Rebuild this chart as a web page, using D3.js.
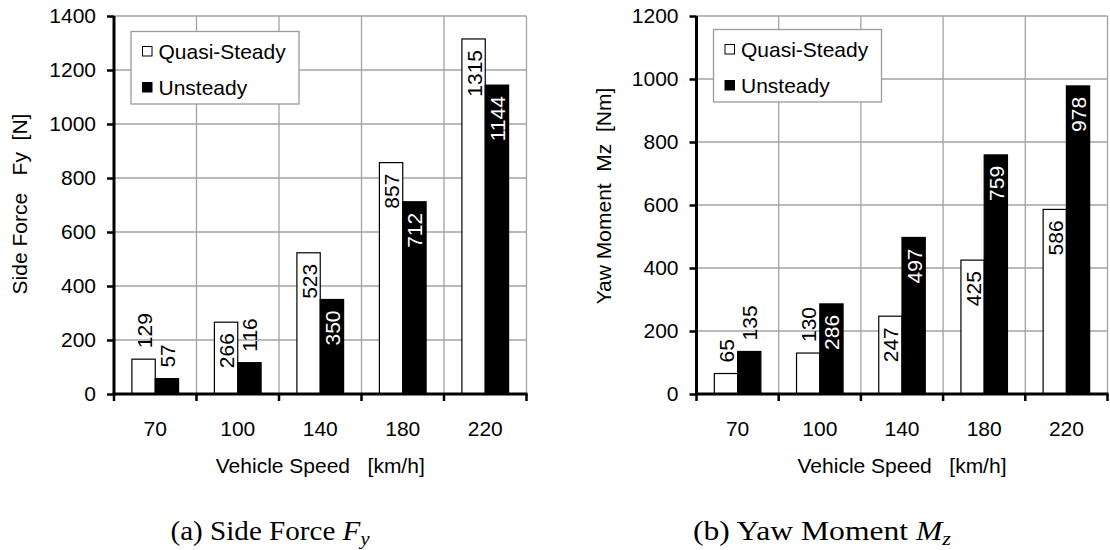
<!DOCTYPE html>
<html>
<head>
<meta charset="utf-8">
<script src="https://cdn.jsdelivr.net/npm/d3@7"></script>
<style>
  html, body { margin: 0; padding: 0; background: #fff; }
  svg { display: block; }
</style>
</head>
<body>
<svg id="fig" width="1110" height="550"></svg>
<script>
// ---- data ----
const speeds = ["70", "100", "140", "180", "220"];
const seriesNames = ["Quasi-Steady", "Unsteady"];

const sideForceQuasi = [129, 266, 523, 857, 1315];
const sideForceUnsteady = [57, 116, 350, 712, 1144];
const sideForceTicks = [0, 200, 400, 600, 800, 1000, 1200, 1400];

const yawMomentQuasi = [65, 130, 247, 425, 586];
const yawMomentUnsteady = [135, 286, 497, 759, 978];
const yawMomentTicks = [0, 200, 400, 600, 800, 1000, 1200];

const xTitle = "Vehicle Speed   [km/h]";

// ---- styling ----
const SANS = "'Liberation Sans', Arial, Helvetica, sans-serif";
const SERIF = "'Liberation Serif', 'Times New Roman', serif";
const FS = 21;
const GRID = "#a3a3a3";
const TOP = 16, BOTTOM = 394;

const svg = d3.select("#fig");

const panels = [
  {
    quasi: sideForceQuasi, unsteady: sideForceUnsteady, ticks: sideForceTicks,
    left: 114, right: 526.5,
    yTitle: "Side Force   Fy  [N]", yTitleX: 27, yTitleY: 204,
    legendX: 17, legendY: 15.5,
    caption: ["(a) Side Force ", "F", "y"], captionX: 270, captionW: 199
  },
  {
    quasi: yawMomentQuasi, unsteady: yawMomentUnsteady, ticks: yawMomentTicks,
    left: 696.5, right: 1107.5,
    yTitle: "Yaw Moment  Mz  [Nm]", yTitleX: 611, yTitleY: 196,
    legendX: 17, legendY: 13.5,
    caption: ["(b) Yaw Moment ", "M", "z"], captionX: 822, captionW: 258
  }
];

panels.forEach(drawPanel);

function drawPanel(p) {
  const g = svg.append("g");
  const yMax = p.ticks[p.ticks.length - 1];

  const x = d3.scaleBand().domain(speeds).range([p.left, p.right]).padding(0);
  const y = d3.scaleLinear().domain([0, yMax]).range([BOTTOM, TOP]);
  const bounds = speeds.map(s => x(s)).concat([p.right]);

  // horizontal grid
  g.append("g").selectAll("line")
    .data(p.ticks.filter(t => t > 0))
    .join("line")
    .attr("x1", p.left).attr("x2", p.right)
    .attr("y1", d => y(d)).attr("y2", d => y(d))
    .attr("stroke", GRID).attr("stroke-width", 1.3);

  // vertical grid at category boundaries
  g.append("g").selectAll("line")
    .data(bounds.slice(1))
    .join("line")
    .attr("x1", d => d).attr("x2", d => d)
    .attr("y1", TOP).attr("y2", BOTTOM)
    .attr("stroke", GRID).attr("stroke-width", 1.3);

  // bars
  const bw = x.bandwidth() * 0.283;
  const series = [
    { values: p.quasi, fill: "#fff", text: "#000", offset: -1 },
    { values: p.unsteady, fill: "#000", text: "#fff", offset: 0 }
  ];
  const cx = (s, i) => x(speeds[i]) + x.bandwidth() / 2 + s.offset * bw;

  series.forEach(s => {
    g.append("g").selectAll("rect")
      .data(s.values)
      .join("rect")
      .attr("x", (d, i) => cx(s, i))
      .attr("y", d => y(d))
      .attr("width", bw)
      .attr("height", d => BOTTOM - y(d))
      .attr("fill", s.fill)
      .attr("stroke", "#000")
      .attr("stroke-width", 1.2);
  });

  // value labels, rotated; inside the bar end when they fit, otherwise above it
  const inset = 11;
  series.forEach(s => {
    g.append("g").selectAll("text")
      .data(s.values)
      .join("text")
      .text(d => d)
      .attr("font-family", SANS)
      .attr("font-size", FS)
      .attr("dy", "0.38em")
      .each(function (d, i) {
        const len = this.getComputedTextLength();
        const h = BOTTOM - y(d);
        const inside = h >= len + 2 * inset;
        const px = cx(s, i) + bw / 2;
        const py = inside ? y(d) + inset : y(d) - inset;
        d3.select(this)
          .attr("text-anchor", inside ? "end" : "start")
          .attr("fill", inside ? s.text : "#000")
          .attr("transform", `translate(${px},${py}) rotate(-90)`);
      });
  });

  // y axis
  const yAxis = d3.axisLeft(y).tickValues(p.ticks).tickFormat(d3.format("d"))
    .tickSize(7).tickSizeOuter(0).tickPadding(11);
  const ga = g.append("g").attr("transform", `translate(${p.left},0)`).call(yAxis);
  ga.select(".domain").attr("stroke", "#000").attr("stroke-width", 3)
    .attr("d", `M0,${TOP}V${BOTTOM + 1.5}`);
  ga.selectAll(".tick line").attr("stroke", "#000").attr("stroke-width", 2.5);
  ga.selectAll(".tick text")
    .attr("font-family", SANS).attr("font-size", FS).attr("fill", "#000");

  // x axis: category labels centred, tick marks at the boundaries
  const xAxis = d3.axisBottom(x).tickSize(0).tickPadding(27);
  const gx = g.append("g").attr("transform", `translate(0,${BOTTOM})`).call(xAxis);
  gx.select(".domain").remove();
  gx.selectAll(".tick text")
    .attr("font-family", SANS).attr("font-size", FS).attr("fill", "#000");

  g.append("line")
    .attr("x1", p.left - 1.5).attr("x2", p.right + 1)
    .attr("y1", BOTTOM).attr("y2", BOTTOM)
    .attr("stroke", "#000").attr("stroke-width", 3);
  g.append("g").selectAll("line")
    .data(bounds)
    .join("line")
    .attr("x1", d => d).attr("x2", d => d)
    .attr("y1", BOTTOM).attr("y2", BOTTOM + 7)
    .attr("stroke", "#000").attr("stroke-width", 2.5);

  // axis titles
  g.append("text")
    .attr("x", (p.left + p.right) / 2).attr("y", 473)
    .attr("text-anchor", "middle")
    .attr("font-family", SANS).attr("font-size", FS)
    .style("white-space", "pre")
    .text(xTitle);

  g.append("text")
    .attr("transform", `translate(${p.yTitleX},${p.yTitleY}) rotate(-90)`)
    .attr("text-anchor", "middle")
    .attr("font-family", SANS).attr("font-size", FS)
    .style("white-space", "pre")
    .text(p.yTitle);

  // legend
  const lx = p.left + p.legendX, ly = TOP + p.legendY;
  const lg = g.append("g").attr("transform", `translate(${lx},${ly})`);
  lg.append("rect")
    .attr("width", 168).attr("height", 72.5)
    .attr("fill", "#fff").attr("stroke", "#9a9a9a").attr("stroke-width", 1.3);
  const items = lg.selectAll("g.item")
    .data(seriesNames)
    .join("g").attr("class", "item")
    .attr("transform", (d, i) => `translate(0,${i * 36})`);
  items.append("rect")
    .attr("x", 11.5).attr("y", 15).attr("width", 9.5).attr("height", 9.5)
    .attr("fill", (d, i) => series[i].fill)
    .attr("stroke", "#000").attr("stroke-width", 1);
  items.append("text")
    .attr("x", 27.5).attr("y", 27)
    .attr("font-family", SANS).attr("font-size", FS)
    .text(d => d);

  // sub-figure caption
  const cap = svg.append("text")
    .attr("x", p.captionX).attr("y", 540)
    .attr("text-anchor", "middle")
    .attr("font-family", SERIF).attr("font-size", 27)
    .attr("textLength", p.captionW)
    .attr("lengthAdjust", "spacingAndGlyphs")
    .style("white-space", "pre");
  cap.append("tspan").text(p.caption[0]);
  cap.append("tspan").attr("font-style", "italic").text(p.caption[1]);
  cap.append("tspan").attr("font-style", "italic").attr("font-size", 19)
    .attr("dy", 5).text(p.caption[2]);
}
</script>
</body>
</html>
